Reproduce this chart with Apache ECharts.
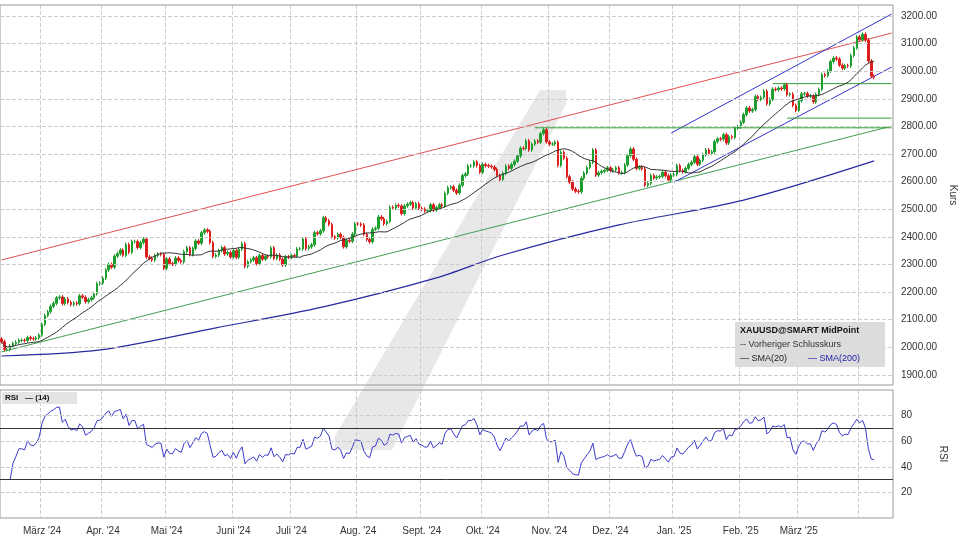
<!DOCTYPE html><html><head><meta charset="utf-8"><script src="https://cdn.jsdelivr.net/npm/echarts@6/dist/echarts.min.js"></script></head><body style="margin:0"><div id="c" style="width:960px;height:540px"></div><script>
const startDate='2024-02-12';
const closes=[2020,1992,1992,2004,2013,2018,2025,2025,2024,2035,2031,2030,2034,2044,2083,
2115,2128,2148,2159,2179,2182,2158,2175,2162,2155,2160,2157,2186,2181,2165,2172,2179,2194,2230,2232,
2250,2280,2300,2290,2330,2339,2352,2333,2372,2344,2383,2383,2361,2379,2392,2327,2322,2316,2332,2337,2336,2286,
2320,2303,2301,2323,2314,2309,2346,2360,2336,2358,2385,2377,2415,2425,2420,2379,2329,2334,2350,2361,2338,2343,2327,
2350,2326,2355,2375,2293,2310,2316,2324,2303,2332,2319,2329,2328,2360,2322,2334,2319,2298,2327,2326,
2332,2330,2356,2356,2392,2358,2364,2371,2415,2411,2422,2469,2458,2445,2400,2396,2409,2398,2364,2387,2384,2410,2447,
2446,2443,2409,2390,2382,2427,2431,2472,2465,2447,2456,2507,2504,2514,2512,2484,2512,2518,2524,2504,2520,2503,
2500,2494,2495,2516,2497,2506,2516,2512,2558,2578,2581,2569,2559,2587,2622,2628,2657,2657,2672,2658,2634,
2662,2658,2656,2653,2644,2622,2608,2630,2656,2648,2662,2674,2693,2721,2720,2748,2715,2736,2747,2743,2774,2788,2744,
2736,2736,2743,2659,2706,2685,2618,2598,2573,2565,2563,2612,2631,2651,2670,2715,2624,2632,2637,2641,2650,
2640,2643,2650,2632,2633,2660,2694,2718,2681,2648,2652,2646,2587,2594,2622,2613,2617,2619,2634,2621,2606,2624,
2626,2658,2640,2636,2648,2662,2670,2690,2663,2677,2697,2715,2702,2708,2745,2755,2754,2770,2740,2763,2760,2794,2798,
2815,2843,2867,2856,2861,2908,2898,2905,2928,2882,2898,2935,2933,2939,2936,2951,2915,2917,2876,2858,
2893,2918,2919,2910,2910,2889,2916,2934,2988,2984,3001,3035,3048,3044,3022,3011,3020,3019,3057,3085,3124,
3114,3134,3113,3037,2982,2978];
const sma200Pts=[[0,1968],[34,1990],[74,2070],[111,2146],[150,2251],[173,2334],[213,2443],[256,2533],[301,2675]];
const monthNames=['Jan.','Feb.','März','Apr.','Mai','Juni','Juli','Aug.','Sept.','Okt.','Nov.','Dez.'];
const rsiTicks=[20,40,60,80];
const priceTicks=[1900,2000,2100,2200,2300,2400,2500,2600,2700,2800,2900,3000,3100,3200];
const TOTAL=308;

const dates=[];let d=new Date(startDate+'T00:00:00Z');
while(dates.length<TOTAL){const s=d.toISOString().slice(0,10);const w=d.getUTCDay();if(w>0&&w<6)dates.push(s);d.setUTCDate(d.getUTCDate()+1);}
const ohlc=closes.map((c,i)=>{const o=i?closes[i-1]:2030;return [o,c,Math.min(o,c)-7,Math.max(o,c)+7];});
const sma20=closes.map((c,i)=>{const a=closes.slice(Math.max(0,i-19),i+1);return +(a.reduce((s,v)=>s+v,0)/a.length).toFixed(1);});
const rsi=[];let ag=0,al=0;
closes.forEach((c,i)=>{if(!i){rsi.push(null);return;}const ch=c-closes[i-1];const g=Math.max(ch,0),l=Math.max(-ch,0);
 if(i<=14){ag+=g/14;al+=l/14;}else{ag=(ag*13+g)/14;al=(al*13+l)/14;}
 rsi.push(i<3?null:+(100-100/(1+ag/(al||1e-6))).toFixed(1));});
const isMonthStart=i=>i>0&&dates[i].slice(5,7)!==dates[i-1].slice(5,7);
const grid1={left:0,right:67,top:5,bottom:155,show:true,borderColor:'#999',borderWidth:1,outerBoundsMode:'none',containLabel:false};
const grid2={left:0,right:67,top:390,bottom:22,show:true,borderColor:'#999',borderWidth:1,outerBoundsMode:'none',containLabel:false};
const xBase={type:'category',data:dates,boundaryGap:true,axisTick:{show:false},axisLine:{show:false},
 splitLine:{show:true,interval:(i)=>isMonthStart(i),lineStyle:{color:'#ccc',type:'dashed'}}};
const chart=echarts.init(document.getElementById('c'));
const tl=(pts,col)=>({type:'line',data:pts,symbol:'none',silent:true,lineStyle:{color:col,width:1},z:3});
chart.setOption({animation:false,backgroundColor:'#fff',
 graphic:[{type:'polygon',z:-10,silent:true,shape:{points:[[540,90],[566,90],[566,104],[392,450],[335,450],[335,436]]},style:{fill:'#e8e8e8'}},
  {type:'rect',left:735,top:322,shape:{width:150,height:45},style:{fill:'#dcdcdc'},z:100},
  {type:'text',left:740,top:326,style:{text:'XAUUSD@SMART MidPoint',font:'bold 9px Liberation Sans',fill:'#111'},z:101},
  {type:'text',left:740,top:340,style:{text:'-- Vorheriger Schlusskurs',font:'9px Liberation Sans',fill:'#333'},z:101},
  {type:'text',left:740,top:354,style:{text:'— SMA(20)',font:'9px Liberation Sans',fill:'#222'},z:101},
  {type:'text',left:808,top:354,style:{text:'— SMA(200)',font:'9px Liberation Sans',fill:'#2222aa'},z:101},
  {type:'rect',left:2,top:392,shape:{width:75,height:12},style:{fill:'#e4e4e4'},z:100},
  {type:'text',left:5,top:394,style:{text:'RSI   — (14)',font:'bold 8px Liberation Sans',fill:'#111'},z:101}],
 grid:[grid1,grid2],
 xAxis:[{...xBase,gridIndex:0,axisLabel:{show:false}},
  {...xBase,gridIndex:1,axisLabel:{interval:(i)=>isMonthStart(i)&&i<closes.length-10,fontSize:10,color:'#333',fontFamily:'Liberation Sans',
   formatter:(v)=>monthNames[+v.slice(5,7)-1]+" '"+v.slice(2,4)}}],
 yAxis:[{gridIndex:0,position:'right',min:1863,max:3240,axisLine:{show:false},
   axisLabel:{customValues:priceTicks,formatter:v=>v.toFixed(2),fontSize:10,color:'#333',fontFamily:'Liberation Sans'},
   axisTick:{customValues:priceTicks},splitLine:{show:false},name:'Kurs',nameLocation:'middle',nameRotate:-90,nameGap:55,nameTextStyle:{fontSize:10,color:'#333'}},
  {gridIndex:1,position:'right',min:0,max:100,axisLine:{show:false},
   axisLabel:{customValues:rsiTicks,fontSize:10,color:'#333',fontFamily:'Liberation Sans'},axisTick:{customValues:rsiTicks},splitLine:{show:false},
   name:'RSI',nameLocation:'middle',nameRotate:-90,nameGap:45,nameTextStyle:{fontSize:10,color:'#333'}}],
 series:[
  {type:'line',xAxisIndex:0,yAxisIndex:0,data:[],silent:true,markLine:{symbol:'none',silent:true,label:{show:false},
   lineStyle:{color:'#ccc',type:'dashed',width:1},data:priceTicks.map(v=>({yAxis:v}))}},
  {type:'line',xAxisIndex:1,yAxisIndex:1,data:[],silent:true,markLine:{symbol:'none',silent:true,label:{show:false},
   lineStyle:{color:'#ccc',type:'dashed',width:1},data:rsiTicks.map(v=>({yAxis:v}))}},
  {type:'candlestick',name:'XAUUSD',data:ohlc,barWidth:2,z:4,itemStyle:{color:'#1e9e2e',color0:'#dd1e1e',borderColor:'#1e9e2e',borderColor0:'#dd1e1e'}},
  tl([[0,2316],[307,3138]],'#e05050'),tl([[0,1983],[307,2801]],'#40a050'),
  tl([[231,2776],[307,3207]],'#3333cc'),tl([[232,2598],[307,3015]],'#3333cc'),
  tl([[184,2795],[307,2795]],'#30a030'),tl([[266,2955],[307,2955]],'#30a030'),tl([[271,2830],[307,2830]],'#30a030'),
  {type:'line',name:'SMA(20)',data:sma20,symbol:'none',z:5,lineStyle:{color:'#333',width:1}},
  {type:'line',name:'SMA(200)',data:sma200Pts,symbol:'none',smooth:0.3,lineStyle:{color:'#2a2aa0',width:1.2}},
  {type:'line',xAxisIndex:1,yAxisIndex:1,data:rsi,symbol:'none',lineStyle:{color:'#3a3acc',width:1},
   markLine:{symbol:'none',silent:true,label:{show:false},lineStyle:{color:'#333',type:'solid',width:1},data:[{yAxis:70},{yAxis:30}]}}
 ]});
</script></body></html>
